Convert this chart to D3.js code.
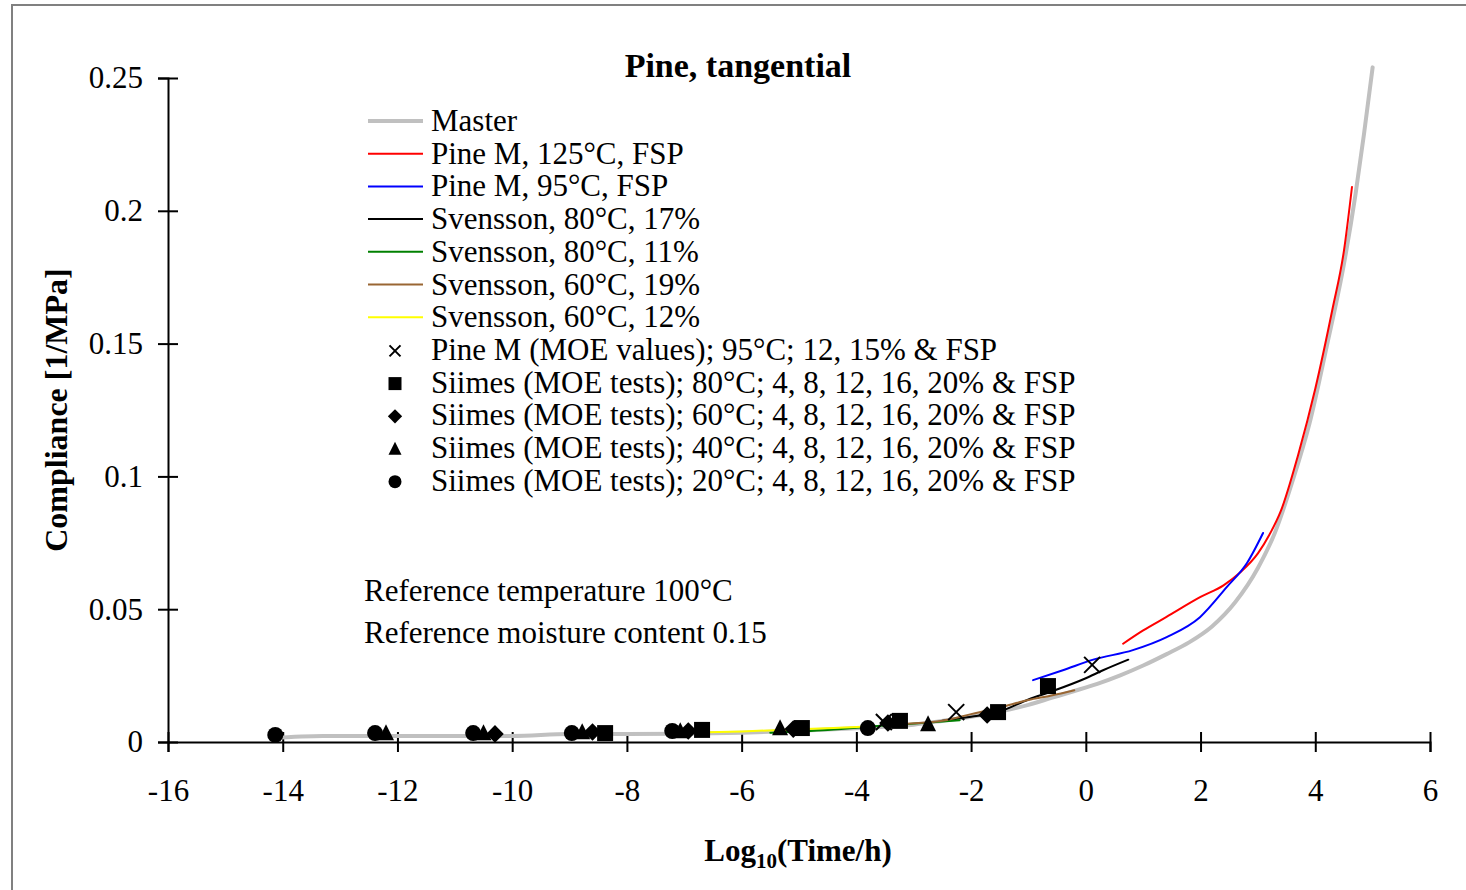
<!DOCTYPE html>
<html>
<head>
<meta charset="utf-8">
<script src="https://cdn.jsdelivr.net/npm/d3@7"></script>
<style>
  body { margin: 0; background: #fff; }
  text { font-family: "Liberation Serif", "Times New Roman", serif; fill: #000; }
</style>
</head>
<body>
<div id="chart"></div>
<script>
// Series data (log10 time in h, compliance in 1/MPa)
const masterX = [-14.2, -13.3, -12, -10, -9, -8, -6, -5, -4, -3, -2.4, -2, -1.5, -1, -0.6, -0.2, 0.2, 0.6, 1.0, 1.4, 1.8, 2.2, 2.6, 3.0, 3.3, 3.6, 3.9, 4.2, 4.5, 4.7, 4.85, 5.0];
const masterY = [0.0015, 0.0023, 0.0023, 0.0023, 0.003, 0.003, 0.0035, 0.0042, 0.0052, 0.0065, 0.0083, 0.0095, 0.0115, 0.014, 0.0166, 0.0192, 0.0219, 0.0251, 0.0288, 0.033, 0.0375, 0.0435, 0.0525, 0.0655, 0.079, 0.098, 0.12, 0.149, 0.18, 0.206, 0.229, 0.254];

const pine125X = [0.65, 1.0, 1.4, 2.0, 2.4, 2.7, 3.0, 3.2, 3.4, 3.7, 4.0, 4.3, 4.5, 4.64];
const pine125Y = [0.037, 0.042, 0.047, 0.0546, 0.059, 0.064, 0.071, 0.078, 0.087, 0.108, 0.133, 0.163, 0.185, 0.209];

const pine95X = [-0.92, -0.4, 0.13, 0.82, 1.41, 1.99, 2.46, 2.81, 3.09];
const pine95Y = [0.0233, 0.027, 0.031, 0.0346, 0.0395, 0.047, 0.0584, 0.0674, 0.0787];

const sv80_17X = [-2.5, -2.0, -1.5, -1.0, -0.6, 0.0, 0.3, 0.74];
const sv80_17Y = [0.008, 0.0095, 0.0115, 0.016, 0.019, 0.024, 0.027, 0.031];

const sv80_11X = [-5.5, -4.5, -3.5, -2.8, -2.2];
const sv80_11Y = [0.0035, 0.0045, 0.0062, 0.0072, 0.0082];

const sv60_19X = [-3.2, -2.5, -2.0, -1.5, -1.0, -0.6, -0.2];
const sv60_19Y = [0.0068, 0.008, 0.0105, 0.013, 0.0158, 0.0175, 0.0195];

const sv60_12X = [-6.6, -6, -5, -4.4, -3.9];
const sv60_12Y = [0.0037, 0.004, 0.0048, 0.0053, 0.0057];

// Marker series
const moeX = [-3.52, -2.26, 0.11];
const moeY = [0.0068, 0.0105, 0.0283];

const siimes80X = [-8.38, -6.69, -4.95, -3.24, -1.53, -0.66];
const siimes80Y = [0.0026, 0.0038, 0.0045, 0.0072, 0.0105, 0.0203];

const siimes60X = [-10.3, -8.6, -6.93, -5.1, -3.45, -1.72];
const siimes60Y = [0.0023, 0.0030, 0.0034, 0.0041, 0.0064, 0.0094];

const siimes40X = [-12.2, -10.5, -8.78, -7.07, -5.33, -2.75];
const siimes40Y = [0.0026, 0.0026, 0.0030, 0.0034, 0.0045, 0.006];

const siimes20X = [-14.13, -12.39, -10.68, -8.96, -7.21, -3.8];
const siimes20Y = [0.0019, 0.0026, 0.0026, 0.0026, 0.0034, 0.0045];

const xTicks = [-16, -14, -12, -10, -8, -6, -4, -2, 0, 2, 4, 6];
const yTicks = [0, 0.05, 0.1, 0.15, 0.2, 0.25];

const lineSeries = [
  { name: "Master", xs: masterX, ys: masterY, color: "#c0c0c0", width: 4 },
  { name: "Pine M, 125°C, FSP", xs: pine125X, ys: pine125Y, color: "#ff0000", width: 2 },
  { name: "Pine M, 95°C, FSP", xs: pine95X, ys: pine95Y, color: "#0000ff", width: 2 },
  { name: "Svensson, 80°C, 17%", xs: sv80_17X, ys: sv80_17Y, color: "#000000", width: 2 },
  { name: "Svensson, 80°C, 11%", xs: sv80_11X, ys: sv80_11Y, color: "#008000", width: 2 },
  { name: "Svensson, 60°C, 19%", xs: sv60_19X, ys: sv60_19Y, color: "#996633", width: 2 },
  { name: "Svensson, 60°C, 12%", xs: sv60_12X, ys: sv60_12Y, color: "#ffff00", width: 2 }
];

const markerSeries = [
  { name: "Pine M (MOE values); 95°C; 12, 15% & FSP", xs: moeX, ys: moeY, shape: "cross" },
  { name: "Siimes (MOE tests); 80°C; 4, 8, 12, 16, 20% & FSP", xs: siimes80X, ys: siimes80Y, shape: "square" },
  { name: "Siimes (MOE tests); 60°C; 4, 8, 12, 16, 20% & FSP", xs: siimes60X, ys: siimes60Y, shape: "diamond" },
  { name: "Siimes (MOE tests); 40°C; 4, 8, 12, 16, 20% & FSP", xs: siimes40X, ys: siimes40Y, shape: "triangle" },
  { name: "Siimes (MOE tests); 20°C; 4, 8, 12, 16, 20% & FSP", xs: siimes20X, ys: siimes20Y, shape: "circle" }
];

const W = 1466, H = 890;
const svg = d3.select("#chart").append("svg")
  .attr("width", W)
  .attr("height", H);

// outer frame (only left and top edges fall inside the picture)
svg.append("rect")
  .attr("x", 12).attr("y", 5)
  .attr("width", 1500).attr("height", 1000)
  .attr("fill", "none")
  .attr("stroke", "#808080")
  .attr("stroke-width", 2);

// Scales
const x = d3.scaleLinear().domain([-16, 6]).range([168, 1430]);
const y = d3.scaleLinear().domain([0, 0.25]).range([742, 78]);

// Axes
const xAxis = svg.append("g")
  .attr("transform", `translate(0,${y(0)})`)
  .call(d3.axisBottom(x).tickValues(xTicks).tickSize(10).tickPadding(27).tickFormat(d => String(d)));
const yAxis = svg.append("g")
  .attr("transform", `translate(${x(-16)},0)`)
  .call(d3.axisLeft(y).tickValues(yTicks).tickSize(10).tickPadding(15).tickFormat(d => String(d)));

[xAxis, yAxis].forEach(g => {
  g.select(".domain").attr("stroke", "#000").attr("stroke-width", 2);
  g.selectAll(".tick line").attr("stroke", "#000").attr("stroke-width", 2);
  g.selectAll(".tick text")
    .style("font-family", "'Liberation Serif', 'Times New Roman', serif")
    .style("font-size", "31px");
});
// ticks cross the axis line
xAxis.selectAll(".tick line").attr("y1", -10).attr("y2", 10);
yAxis.selectAll(".tick line").attr("x1", -10).attr("x2", 10);

// Lines
const line = d3.line().x(d => x(d[0])).y(d => y(d[1])).curve(d3.curveMonotoneX);
lineSeries.forEach(s => {
  svg.append("path")
    .datum(d3.zip(s.xs, s.ys))
    .attr("d", line)
    .attr("fill", "none")
    .attr("stroke", s.color)
    .attr("stroke-width", s.width)
    .attr("stroke-linecap", "round")
    .attr("stroke-linejoin", "round");
});

// Marker drawing
function drawMarker(g, shape, cx, cy, size) {
  const h = size / 2;
  let d;
  if (shape === "cross") {
    g.append("path")
      .attr("d", `M${cx - h},${cy - h}L${cx + h},${cy + h}M${cx - h},${cy + h}L${cx + h},${cy - h}`)
      .attr("stroke", "#000").attr("stroke-width", 2).attr("fill", "none");
    return;
  }
  if (shape === "square") d = `M${cx - h},${cy - h}h${size}v${size}h${-size}Z`;
  else if (shape === "diamond") d = `M${cx},${cy - h * 1.1}L${cx + h * 1.1},${cy}L${cx},${cy + h * 1.1}L${cx - h * 1.1},${cy}Z`;
  else if (shape === "triangle") d = `M${cx},${cy - h * 1.1}L${cx + h},${cy + h * 0.9}L${cx - h},${cy + h * 0.9}Z`;
  else {
    g.append("circle").attr("cx", cx).attr("cy", cy).attr("r", h).attr("fill", "#000");
    return;
  }
  g.append("path").attr("d", d).attr("fill", "#000");
}

const markerG = svg.append("g");
markerSeries.forEach(s => {
  d3.zip(s.xs, s.ys).forEach(p => drawMarker(markerG, s.shape, x(p[0]), y(p[1]) - 2, 16));
});

// Title
svg.append("text")
  .attr("x", 738).attr("y", 77)
  .attr("text-anchor", "middle")
  .style("font-size", "34px")
  .style("font-weight", "bold")
  .text("Pine, tangential");

// Legend
const legX = 368, legTextX = 431, legY0 = 121, legStep = 32.7;
lineSeries.forEach((s, i) => {
  const yy = legY0 + i * legStep;
  svg.append("line")
    .attr("x1", legX).attr("x2", legX + 55)
    .attr("y1", yy).attr("y2", yy)
    .attr("stroke", s.color).attr("stroke-width", s.width);
  svg.append("text")
    .attr("x", legTextX).attr("y", yy + 10)
    .style("font-size", "31px")
    .text(s.name);
});
markerSeries.forEach((s, i) => {
  const yy = legY0 + (lineSeries.length + i) * legStep;
  drawMarker(svg, s.shape, 395, yy + 1, s.shape === "cross" ? 11 : 13);
  svg.append("text")
    .attr("x", legTextX).attr("y", yy + 10)
    .style("font-size", "31px")
    .text(s.name);
});

// Annotations
svg.append("text").attr("x", 364).attr("y", 601).style("font-size", "31px").text("Reference temperature 100°C");
svg.append("text").attr("x", 364).attr("y", 643).style("font-size", "31px").text("Reference moisture content 0.15");

// Axis titles
const xTitle = svg.append("text")
  .attr("x", 798).attr("y", 861)
  .attr("text-anchor", "middle")
  .style("font-size", "31px")
  .style("font-weight", "bold");
xTitle.append("tspan").text("Log");
xTitle.append("tspan").attr("dy", 7).style("font-size", "21px").text("10");
xTitle.append("tspan").attr("dy", -7).text("(Time/h)");

svg.append("text")
  .attr("transform", "translate(67,410) rotate(-90)")
  .attr("text-anchor", "middle")
  .style("font-size", "32px")
  .style("font-weight", "bold")
  .text("Compliance [1/MPa]");
</script>
</body>
</html>
